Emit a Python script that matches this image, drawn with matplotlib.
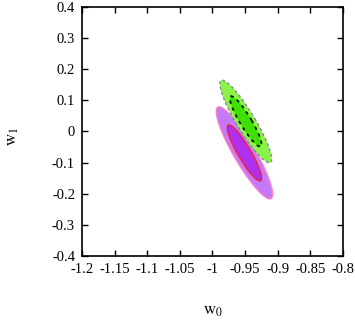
import numpy as np
import matplotlib
matplotlib.use("Agg")
import matplotlib.pyplot as plt
from matplotlib.patches import Ellipse

plt.rcParams['font.family'] = ['Liberation Serif', 'DejaVu Serif']
plt.rcParams['mathtext.fontset'] = 'stix'

# Fisher forecast: centre, sigma_w0, sigma_w1, correlation
green_center = (-0.949, 0.032)
green_sigma = (0.0160, 0.0535)
green_rho = -0.91

magenta_center = (-0.951, -0.069)
magenta_sigma = (0.0174, 0.0595)
magenta_rho = -0.90

# delta chi^2 for 95% and 68% in two parameters
dchi2 = [6.17, 2.30]

x_ticks = [-1.2, -1.15, -1.1, -1.05, -1.0, -0.95, -0.9, -0.85, -0.8]
x_labels = ['-1.2', '-1.15', '-1.1', '-1.05', '-1', '-0.95', '-0.9', '-0.85', '-0.8']
y_ticks = [-0.4, -0.3, -0.2, -0.1, 0.0, 0.1, 0.2, 0.3, 0.4]
y_labels = ['-0.4', '-0.3', '-0.2', '-0.1', '0', '0.1', '0.2', '0.3', '0.4']


def cov_ellipse(center, sigma, rho, d2, **kw):
    sx, sy = sigma
    cov = np.array([[sx**2, rho*sx*sy], [rho*sx*sy, sy**2]])
    vals, vecs = np.linalg.eigh(cov)
    angle = np.degrees(np.arctan2(vecs[1, 1], vecs[0, 1]))
    w = 2*np.sqrt(d2*vals[1])
    h = 2*np.sqrt(d2*vals[0])
    return Ellipse(center, w, h, angle=angle, **kw)


fig = plt.figure(figsize=(3.55, 3.29), dpi=100)
ax = fig.add_axes([0.231, 0.222, 0.735, 0.757])

# magenta set
ax.add_patch(cov_ellipse(magenta_center, magenta_sigma, magenta_rho, dchi2[0],
                         facecolor='#c47af8', edgecolor='#ff7fc8', lw=1.0))
ax.add_patch(cov_ellipse(magenta_center, magenta_sigma, magenta_rho, dchi2[1],
                         facecolor='#b030f0', edgecolor='#ff1a1a', lw=0.9))

# green set
ax.add_patch(cov_ellipse(green_center, green_sigma, green_rho, dchi2[0],
                         facecolor='#8cf24a', edgecolor='#7a8a90', lw=1.0, ls=(0, (2, 2))))
ax.add_patch(cov_ellipse(green_center, green_sigma, green_rho, dchi2[1],
                         facecolor='#3ee000', edgecolor='black', lw=1.2, ls=(0, (2, 2.5))))

ax.set_xlim(-1.2, -0.8)
ax.set_ylim(-0.4, 0.4)
ax.set_xticks(x_ticks)
ax.set_xticklabels(x_labels)
ax.set_yticks(y_ticks)
ax.set_yticklabels(y_labels)
ax.tick_params(direction='in', top=True, right=True, length=4, width=1.0,
               labelsize=10.5, pad=5)
for s in ax.spines.values():
    s.set_linewidth(1.2)

ax.set_xlabel(r'$\mathrm{w}_0$', fontsize=12)
ax.set_ylabel(r'$\mathrm{w}_1$', fontsize=12)
ax.xaxis.set_label_coords(0.5, -0.19)
ax.yaxis.set_label_coords(-0.235, 0.478)

fig.savefig('out.png', dpi=100)
